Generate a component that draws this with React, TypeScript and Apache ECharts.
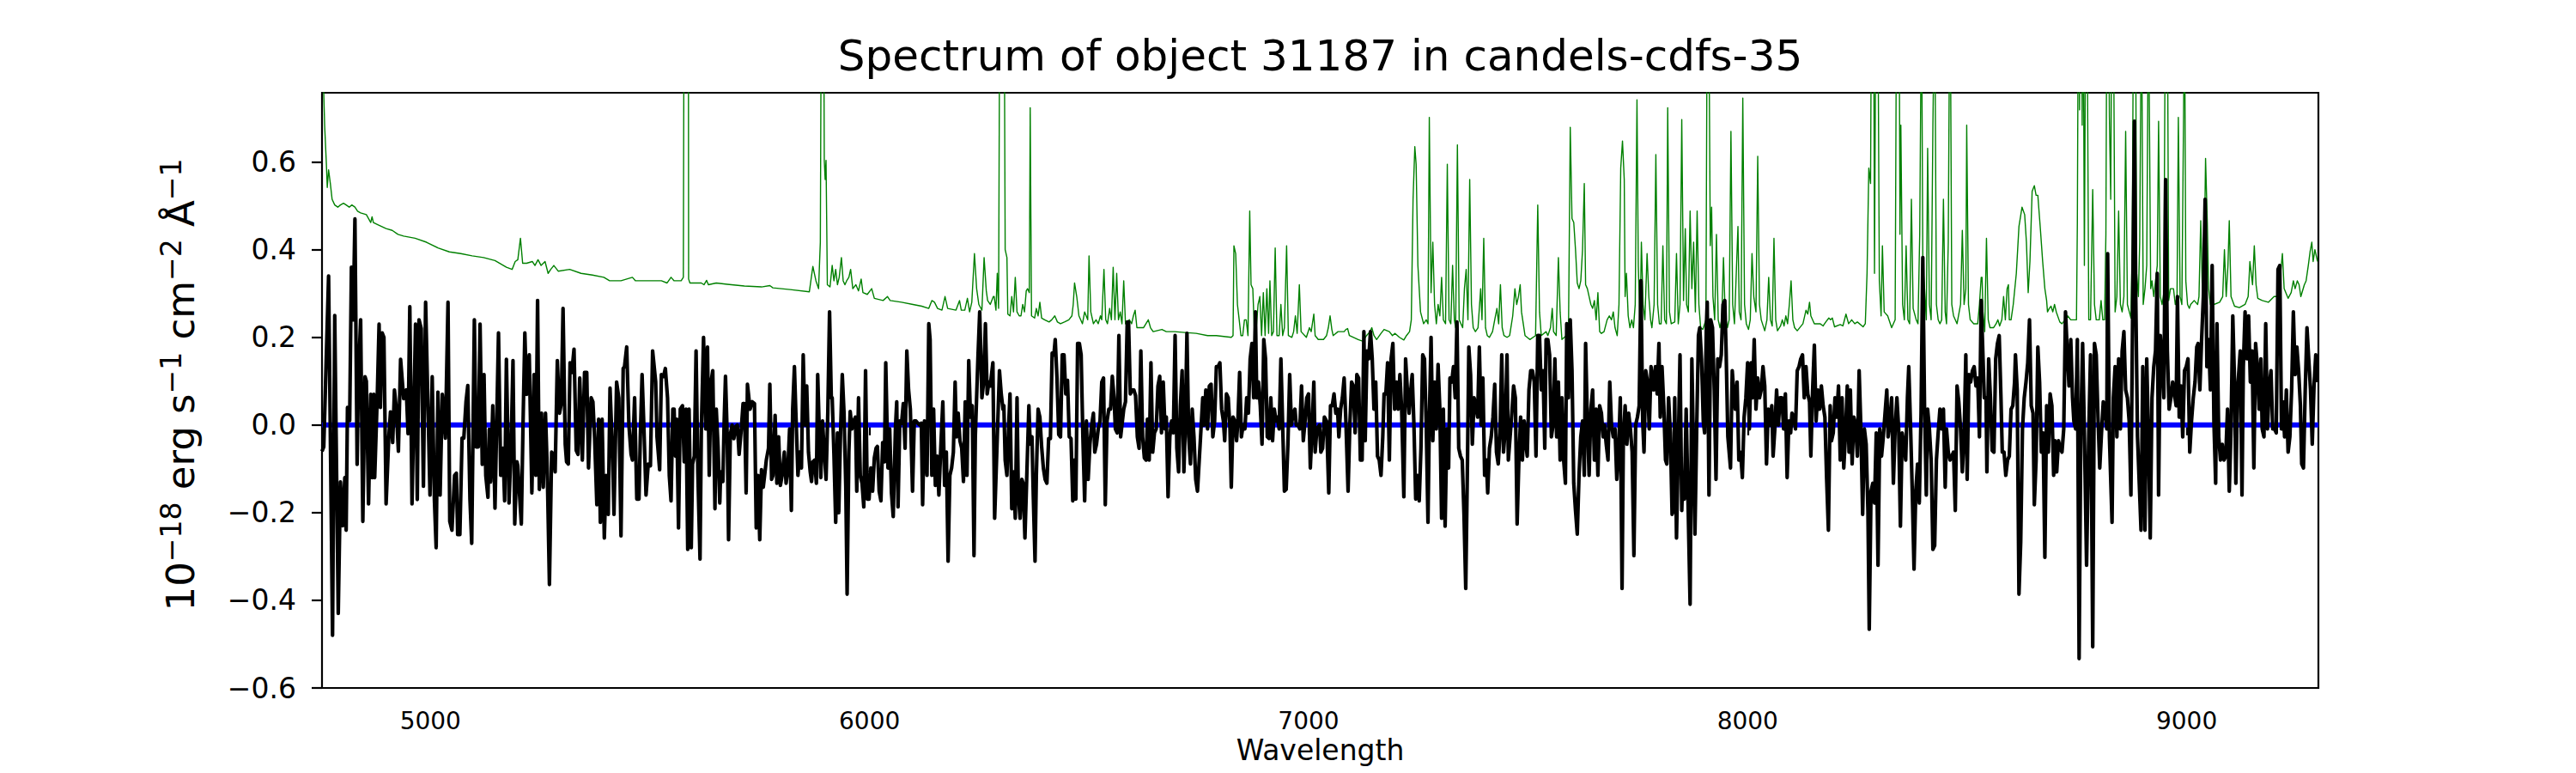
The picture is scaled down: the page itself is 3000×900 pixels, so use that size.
import React, { useEffect, useRef } from "react";
import * as echarts from "echarts";

// Axis extents and ticks
const xMin = 4753;
const xMax = 9300;
const yMin = -0.6;
const yMax = 0.758;
const xTicks = [5000, 6000, 7000, 8000, 9000];
const yTicks = [-0.6, -0.4, -0.2, 0, 0.2, 0.4, 0.6];

const titleText = "Spectrum of object 31187 in candels-cdfs-35";
const xLabelText = "Wavelength";

// Zero reference line
const zeroLine = [[4753, 0], [9300, 0]];

// Object flux (black), [wavelength, flux]
const fluxA = [[4753,-0.06],[4757,-0.05],[4768,0.34],[4777,-0.48],[4782,0.25],[4790,-0.43],[4795,-0.13],[4800,-0.23],[4805,-0.12],[4808,-0.24],[4811,0.04],[4816,0.01],[4820,0.36],[4824,0.24],[4828,0.47],[4833,-0.09],[4836,0.11],[4841,0.24],[4846,-0.22],[4851,0.11],[4854,0.10],[4859,-0.18],[4864,0.07],[4867,-0.12],[4871,0.07],[4873,-0.12],[4879,0.07],[4883,0.23],[4886,0.04],[4890,0.21],[4894,0.20],[4899,-0.18],[4905,-0.03],[4909,0.03],[4914,-0.04],[4918,0.08],[4922,0.04],[4927,-0.06],[4932,0.15],[4939,0.06],[4945,0.08],[4949,-0.02],[4953,0.27],[4958,-0.18],[4962,0.02],[4966,0.23],[4970,-0.17],[4974,0.24],[4979,0.22],[4984,-0.14],[4989,0.28],[4994,0.06],[4999,-0.16],[5004,0.11],[5009,-0.17],[5013,-0.28],[5017,0.075],[5022,-0.16],[5027,0.07],[5030,0.036],[5034,-0.03],[5040,0.28],[5044,-0.22],[5049,-0.24],[5055,-0.115],[5059,-0.11],[5062,-0.25],[5067,-0.25],[5072,-0.03],[5076,-0.03],[5081,0.053],[5085,0.09],[5090,-0.17],[5094,-0.27],[5100,0.24],[5104,-0.05],[5109,-0.05],[5113,0.23],[5118,-0.09],[5122,0.115],[5126,-0.115],[5131,-0.165],[5134,-0.01],[5137,-0.13],[5142,0.044],[5147,-0.19],[5155,0.21],[5160,-0.115],[5165,-0.053],[5169,-0.173],[5173,0.15],[5179,-0.178],[5184,-0.036],[5188,0.147],[5192,-0.226],[5197,-0.084],[5199,-0.093],[5207,-0.226],[5211,0.009],[5215,0.21],[5219,0.07],[5225,0.16],[5231,-0.155],[5236,0.115],[5240,-0.115],[5244,0.284],[5248,-0.147],[5253,0.027],[5257,-0.142],[5262,0.027],[5266,-0.10],[5271,-0.364],[5276,-0.062],[5281,-0.067],[5284,-0.107],[5289,0.147],[5294,0.027],[5298,0.049],[5302,0.266],[5307,-0.044],[5310,-0.084],[5314,-0.089],[5318,0.142],[5322,0.12],[5327,0.173],[5332,-0.058],[5336,-0.067],[5340,0.107],[5346,-0.08],[5351,0.12],[5356,0.12],[5360,-0.098],[5366,0.062],[5370,0.053],[5374,-0.031],[5379,-0.182],[5383,0.013],[5387,-0.222],[5391,0.013],[5396,-0.258],[5400,-0.115],[5405,-0.204],[5409,0.084],[5415,-0.071],[5418,-0.204],[5424,0.098],[5429,0.062],[5434,-0.253],[5439,0.129],[5442,0.133],[5447,0.178],[5452,0],[5457,-0.067],[5460,-0.08],[5465,0.062],[5470,-0.169],[5475,-0.169],[5478,-0.027],[5482,0.115],[5486,0],[5491,-0.16],[5496,-0.089],[5501,-0.093]];

const fluxB = [[5506,0.169],[5513,0.098],[5516,-0.027],[5522,-0.102],[5526,0.115],[5531,0.111],[5535,0.129],[5540,0.062],[5544,-0.115],[5548,-0.173],[5552,0.036],[5555,0.036],[5558,-0.071],[5561,0.013],[5565,-0.235],[5569,0.036],[5574,0.044],[5578,-0.084],[5582,0.036],[5586,-0.284],[5589,0.036],[5594,-0.28],[5597,-0.089],[5601,-0.071],[5605,0.169],[5609,-0.107],[5614,-0.306],[5617,-0.009],[5622,0.2],[5627,-0.009],[5631,0.178],[5635,-0.115],[5639,0.098],[5643,0.124],[5648,-0.191],[5651,0.036],[5655,-0.049],[5659,-0.178],[5661,-0.107],[5666,-0.129],[5669,0.009],[5672,0.111],[5676,-0.027],[5679,-0.262],[5683,-0.022],[5687,0],[5691,-0.031],[5695,-0.004],[5699,0],[5703,-0.067],[5708,-0.009],[5712,0.049],[5715,0.049],[5719,-0.155],[5722,0.093],[5728,0.036],[5733,0.053],[5738,0.049],[5742,-0.235],[5746,-0.115],[5750,-0.262],[5754,-0.102],[5758,-0.142],[5762,-0.107],[5765,-0.08],[5770,-0.053],[5773,0.093],[5777,-0.124],[5780,-0.115],[5785,0.022],[5789,-0.133],[5793,-0.027],[5797,-0.138],[5801,-0.115],[5806,-0.062],[5810,-0.133],[5814,-0.102],[5818,-0.009],[5822,-0.195],[5825,0.036],[5829,0.133],[5832,0.036],[5837,-0.115],[5841,-0.062],[5845,-0.098],[5849,0.16],[5853,0],[5857,0.089],[5861,-0.062],[5865,-0.107],[5868,-0.129],[5871,-0.084],[5875,-0.08],[5879,-0.133],[5882,0.115],[5885,0.009],[5889,-0.12],[5893,0.009],[5897,-0.062],[5901,-0.124],[5905,0.027],[5909,0.258],[5913,0.062],[5915,0.062],[5919,-0.067],[5923,-0.222],[5927,-0.018],[5930,-0.2],[5934,-0.018],[5938,0.115],[5942,0.027],[5946,-0.142],[5949,-0.386],[5953,-0.062],[5956,0.031],[5960,-0.009],[5964,0.009],[5968,0.018],[5971,-0.151],[5975,0.062],[5979,-0.115],[5983,-0.133],[5987,-0.187],[5991,0.124],[5995,-0.169],[5999,-0.169],[6003,-0.098],[6007,-0.151],[6011,-0.075],[6015,-0.053],[6018,-0.049],[6022,-0.151],[6026,-0.173],[6030,-0.04],[6034,-0.084],[6037,0.142],[6042,-0.098],[6046,-0.009],[6050,-0.155],[6054,-0.209],[6059,-0.009],[6062,0.053],[6065,-0.187],[6069,0.009],[6073,0.004],[6077,0.049],[6081,-0.053],[6085,0.169],[6089,0.08],[6093,0.036],[6098,-0.151],[6102,0.009],[6106,0.009],[6110,0.004],[6114,0],[6118,0.004],[6121,-0.182],[6125,0.009],[6131,-0.115],[6135,0.231],[6138,0.195],[6142,-0.115],[6146,0.036],[6150,-0.138],[6154,-0.071],[6158,-0.16],[6163,-0.036],[6167,0.053],[6171,-0.138],[6175,-0.062],[6179,-0.311],[6183,-0.115],[6187,-0.098],[6191,-0.062],[6195,0.098],[6198,-0.027],[6202,0.027],[6206,-0.036],[6210,-0.053],[6214,-0.129],[6218,0.053],[6222,-0.115],[6226,0.147],[6230,0.018],[6234,0.044],[6238,-0.298],[6241,-0.027],[6247,0.155],[6251,0.258],[6256,0.062],[6260,0.098],[6264,0.231],[6268,0.071],[6272,0.098],[6275,0.089],[6281,0.142],[6285,-0.213]];

const fluxC = [[6296,0.124],[6300,0.071],[6304,0.036],[6306,0.044],[6309,-0.08],[6313,-0.115],[6317,0],[6320,0.071],[6324,-0.191],[6328,-0.107],[6332,-0.213],[6336,0.062],[6339,-0.16],[6343,-0.213],[6347,-0.124],[6350,-0.133],[6354,-0.258],[6358,-0.124],[6363,0.044],[6366,-0.044],[6370,-0.027],[6373,-0.16],[6377,-0.311],[6380,-0.115],[6384,0.036],[6388,0.018],[6392,-0.049],[6396,-0.098],[6400,-0.124],[6404,-0.133],[6408,-0.031],[6412,-0.031],[6416,0.164],[6420,0.16],[6423,0.195],[6427,0.107],[6431,-0.022],[6435,-0.027],[6439,0.16],[6443,0.16],[6447,0.071],[6451,0.102],[6455,-0.027],[6459,-0.031],[6463,-0.173],[6467,-0.08],[6470,-0.169],[6474,0.186],[6478,0.186],[6482,0.16],[6486,-0.027],[6490,-0.173],[6494,0.009],[6498,-0.124],[6502,-0.044],[6506,0],[6510,0.027],[6513,-0.062],[6517,-0.044],[6521,-0.009],[6525,0.009],[6529,0.098],[6533,0.107],[6537,-0.182],[6541,0.009],[6545,0.036],[6549,0.036],[6553,0.111],[6557,0.062],[6560,-0.009],[6564,-0.018],[6568,0.204],[6572,-0.027],[6575,0],[6579,0.036],[6583,0.053],[6587,0.235],[6590,0.235],[6594,0.071],[6598,0.08],[6602,0.08],[6606,0.067],[6610,-0.027],[6614,-0.053],[6618,0.169],[6622,-0.027],[6626,-0.075],[6630,-0.08],[6633,0.013],[6637,-0.08],[6641,0.142],[6645,-0.062],[6649,-0.018],[6653,-0.009],[6657,0.089],[6661,0.111],[6665,-0.018],[6669,0.098],[6673,-0.009],[6676,0.018],[6680,-0.164],[6684,-0.027],[6688,0.009],[6692,-0.018],[6696,0.204],[6700,-0.053],[6704,-0.107],[6708,0.044],[6712,0.124],[6716,-0.107],[6719,-0.009],[6723,0.209],[6727,-0.027],[6731,-0.089],[6735,0.036],[6739,-0.027],[6743,-0.124],[6747,-0.151],[6751,-0.08],[6755,-0.009],[6759,0.062],[6762,0],[6766,0.08],[6770,-0.009],[6774,0.089],[6778,0.093],[6782,-0.027],[6786,0.009],[6790,0.133],[6794,0.133],[6798,0.142],[6802,0.036],[6806,0.009],[6809,-0.036],[6813,0.071],[6817,0.062],[6821,-0.009],[6824,-0.142],[6828,0.018],[6832,0.009],[6836,-0.036],[6839,0.009],[6843,0.12],[6847,-0.027],[6851,0],[6855,-0.009],[6859,0.062],[6863,0.027],[6867,0.151],[6871,0.186],[6875,0.062],[6879,0.258],[6882,0.062],[6886,0.098],[6890,0.044],[6894,-0.044],[6898,0.195],[6902,0.151],[6906,-0.027],[6910,-0.031],[6914,0.062],[6918,-0.036],[6922,0.036],[6926,0.009],[6929,0.018],[6933,-0.009],[6937,0.151],[6941,0],[6945,-0.151],[6949,-0.147],[6953,-0.044],[6957,0.115],[6961,0],[6965,0.027],[6969,0.036],[6972,0],[6976,0],[6980,-0.009],[6984,0.089],[6988,-0.036],[6992,0.009],[6996,0.062],[7000,0.071],[7004,-0.098],[7008,-0.009],[7012,0.098],[7015,-0.062],[7019,-0.009],[7025,0]];

const fluxD = [[7028,-0.062],[7032,-0.053],[7036,0.018],[7041,0.009],[7046,-0.155],[7050,0.044],[7054,0.044],[7058,0.071],[7062,0.027],[7066,0.036],[7069,-0.027],[7073,0.036],[7077,0.062],[7081,0.107],[7085,0.009],[7090,-0.151],[7094,0],[7098,0.098],[7102,0.089],[7106,-0.018],[7110,0.115],[7114,0.107],[7118,-0.08],[7122,-0.08],[7126,0.213],[7129,-0.036],[7133,0.169],[7137,0.151],[7141,0.213],[7145,0.151],[7149,0.036],[7153,0.098],[7157,-0.071],[7161,-0.08],[7165,-0.115],[7169,-0.027],[7172,0.071],[7176,0.071],[7180,0.142],[7184,-0.08],[7188,0.151],[7192,0.186],[7196,0.036],[7200,0.098],[7204,0.036],[7208,0.115],[7212,0.036],[7217,-0.164],[7221,0.151],[7225,0.08],[7229,0.027],[7232,0.071],[7236,0.115],[7240,0],[7244,-0.169],[7248,-0.115],[7252,-0.173],[7256,-0.053],[7260,0.16],[7264,0.151],[7268,0],[7272,-0.222],[7275,0.009],[7279,0.2],[7283,-0.036],[7287,0.098],[7291,-0.009],[7295,0.138],[7299,0.036],[7303,-0.213],[7307,0.036],[7311,-0.231],[7315,-0.009],[7319,-0.098],[7322,0.107],[7326,0.098],[7330,0.133],[7334,0.062],[7338,0.235],[7342,-0.053],[7346,-0.071],[7350,-0.08],[7354,-0.204],[7358,-0.373],[7362,-0.08],[7365,0.178],[7369,0.115],[7373,-0.044],[7377,0.062],[7381,0.044],[7385,0.018],[7389,0.178],[7393,0],[7397,0.107],[7401,-0.115],[7405,-0.08],[7408,-0.155],[7412,-0.053],[7416,-0.027],[7420,0.018],[7424,0.093],[7428,-0.062],[7432,-0.089],[7436,-0.018],[7440,0.16],[7444,-0.062],[7448,-0.009],[7452,0.16],[7455,-0.08],[7459,-0.027],[7463,0.027],[7467,0.089],[7471,0.062],[7475,-0.226],[7479,-0.08],[7483,0.018],[7487,-0.08],[7491,0.009],[7495,-0.044],[7498,-0.071],[7502,0.08],[7506,0.124],[7510,0.124],[7514,0.098],[7518,-0.071],[7522,0.204],[7526,0.204],[7530,0.08],[7534,0.124],[7538,-0.053],[7541,0.195],[7545,0.195],[7549,0.16],[7553,-0.027],[7557,0],[7561,0.151],[7565,-0.027],[7569,0.098],[7573,-0.08],[7577,0.062],[7581,-0.08],[7585,-0.133],[7588,0.231],[7592,0.062],[7596,0.24],[7600,0.124],[7604,-0.133],[7608,-0.195],[7612,-0.249],[7616,-0.115],[7620,-0.027],[7624,0.009],[7628,-0.115],[7631,0.186],[7635,0.009],[7639,-0.115],[7643,0.036],[7647,0.08],[7651,-0.08],[7655,0.036],[7659,-0.115],[7663,0.044],[7667,0.027],[7671,-0.027],[7674,0],[7678,-0.044],[7682,-0.08],[7686,0.098],[7690,0],[7694,-0.027],[7698,-0.009],[7702,-0.124],[7706,-0.062],[7710,0.062],[7714,-0.373],[7717,-0.027],[7721,0.044],[7725,-0.044],[7729,0.027],[7733,-0.009],[7737,-0.062],[7741,-0.298],[7745,0],[7749,0.018],[7753,0.044],[7757,0.329],[7761,0.009],[7764,-0.062],[7768,0.124],[7772,0.098],[7776,-0.009],[7780,0.133]];

const fluxE = [[7786,0.08],[7790,0.133],[7794,0.071],[7798,0.186],[7801,0.018],[7805,0.133],[7809,0.044],[7813,-0.08],[7816,-0.089],[7820,0.062],[7824,-0.018],[7828,-0.204],[7831,-0.195],[7834,0.062],[7838,-0.258],[7842,-0.053],[7846,0.16],[7850,-0.195],[7852,-0.124],[7856,-0.169],[7860,0.036],[7864,-0.16],[7869,-0.409],[7873,0.151],[7877,-0.08],[7880,-0.249],[7884,-0.009],[7888,0.204],[7891,0.222],[7895,0.151],[7899,0.009],[7902,-0.018],[7906,0.222],[7908,0.28],[7912,-0.16],[7916,0.24],[7920,0.222],[7924,0.08],[7928,-0.124],[7932,0.151],[7936,0.133],[7940,0.16],[7944,0.275],[7948,0.284],[7951,0.169],[7955,-0.027],[7961,-0.098],[7965,0.124],[7968,0.08],[7972,0.036],[7976,0.098],[7980,-0.08],[7984,-0.062],[7988,-0.12],[7992,0.018],[7996,0.062],[8000,0.142],[8004,-0.009],[8008,0.142],[8011,0.062],[8015,0.195],[8019,0.036],[8023,0.107],[8027,0.062],[8031,0.08],[8035,0.133],[8039,0.089],[8043,-0.089],[8047,0.036],[8051,0],[8055,0.044],[8058,-0.071],[8062,-0.009],[8066,0.08],[8070,0],[8074,0.062],[8078,0.062],[8082,-0.009],[8086,0.071],[8090,-0.12],[8094,0.009],[8098,-0.018],[8101,0.027],[8105,0.018],[8109,-0.009],[8113,0.124],[8117,0.133],[8121,0.151],[8125,0.16],[8129,0.062],[8133,0.133],[8137,0.071],[8141,0.053],[8144,-0.071],[8148,0.08],[8152,0.182],[8156,0.009],[8160,0.08],[8164,0.036],[8168,0.089],[8172,0.044],[8176,0.018],[8180,-0.124],[8184,-0.24],[8188,0.044],[8191,-0.036],[8195,-0.018],[8199,0.062],[8203,0.018],[8207,0.089],[8211,-0.08],[8215,0.062],[8219,-0.098],[8223,-0.018],[8227,0.089],[8231,-0.062],[8234,0.08],[8238,-0.089],[8242,0.018],[8246,0],[8250,-0.071],[8254,0.124],[8258,-0.009],[8262,-0.204],[8266,-0.009],[8270,-0.044],[8274,-0.195],[8277,-0.466],[8281,-0.151],[8285,-0.133],[8289,-0.178],[8293,-0.018],[8297,-0.32],[8301,-0.009],[8305,-0.071],[8309,-0.027],[8313,0.027],[8317,0.08],[8320,-0.027],[8324,0.009],[8328,0.062],[8332,-0.133],[8336,-0.009],[8340,0.062],[8344,-0.009],[8348,-0.231],[8352,-0.018],[8356,-0.044],[8360,-0.08],[8364,0.062],[8367,0.133],[8371,0],[8375,-0.151],[8379,-0.329],[8383,-0.151],[8387,-0.089],[8391,-0.178],[8395,0.027],[8399,0.382],[8403,0.036],[8407,-0.16],[8410,0.036],[8414,-0.009],[8418,-0.08],[8422,-0.284],[8426,-0.275],[8430,-0.08],[8434,-0.018],[8438,0.036],[8442,-0.009],[8446,0.036],[8450,-0.142],[8453,-0.009],[8457,-0.062],[8461,-0.08],[8465,-0.071],[8469,-0.062],[8473,-0.195],[8477,0.089],[8481,0.053],[8485,-0.009],[8489,-0.107],[8493,-0.027],[8497,0.16],[8500,-0.124],[8504,0.115],[8508,0.098],[8512,0.124],[8516,0.133],[8520,0.089],[8524,0.107],[8528,-0.027],[8532,0.284]];

const fluxF = [[8539,0.062],[8543,0.062],[8545,-0.107],[8549,0.151],[8553,0.062],[8557,-0.058],[8561,-0.062],[8565,0.151],[8569,0.186],[8573,0.204],[8577,0.062],[8580,-0.062],[8584,-0.062],[8588,-0.115],[8592,-0.08],[8596,-0.071],[8600,0.036],[8604,0.044],[8608,0.098],[8610,0.16],[8614,0.08],[8618,-0.386],[8622,-0.266],[8626,-0.009],[8630,0.062],[8634,0.098],[8638,0.142],[8642,0.24],[8646,0.044],[8650,0.027],[8653,-0.182],[8657,-0.08],[8661,0.178],[8665,0.098],[8669,-0.062],[8673,-0.018],[8677,-0.302],[8681,0.044],[8685,-0.062],[8689,0.071],[8693,0.044],[8697,-0.115],[8700,-0.036],[8704,-0.107],[8708,-0.036],[8712,-0.053],[8716,-0.062],[8720,-0.009],[8724,0.258],[8728,0.169],[8732,0.089],[8736,0.195],[8740,0.062],[8743,0.009],[8747,-0.009],[8751,0.195],[8755,-0.533],[8759,0],[8763,0.186],[8767,-0.018],[8772,-0.32],[8777,-0.018],[8781,0.16],[8786,-0.506],[8790,0.186],[8794,0.16],[8798,0.018],[8802,-0.098],[8806,-0.018],[8810,0.053],[8814,0.036],[8818,-0.009],[8820,0.391],[8824,-0.027],[8830,-0.222],[8833,0.062],[8837,0.133],[8841,-0.027],[8845,0.151],[8849,-0.009],[8853,0.169],[8857,0.213],[8861,0.08],[8865,0.062],[8869,0.009],[8873,-0.16],[8881,0.693],[8884,0.293],[8888,-0.027],[8892,-0.133],[8896,-0.24],[8900,0.133],[8905,-0.24],[8909,0.151],[8913,-0.027],[8917,-0.258],[8921,0.062],[8925,0.133],[8929,0.169],[8933,0.346],[8936,-0.16],[8940,0.204],[8944,0.151],[8948,0.062],[8952,0.56],[8956,0.169],[8960,0.036],[8964,0.062],[8968,0.098],[8972,0.071],[8976,0.044],[8979,0.293],[8983,0.018],[8987,0.089],[8991,-0.027],[8995,0.124],[8999,0.133],[9003,0.151],[9007,-0.062],[9011,0.009],[9015,0.062],[9019,0.098],[9023,0.178],[9026,0.186],[9030,0.08],[9034,0.195],[9038,0.293],[9042,0.515],[9046,0.133],[9050,0.195],[9054,0.08],[9058,0.364],[9062,0.009],[9066,-0.133],[9069,0.231],[9073,-0.027],[9077,-0.08],[9081,-0.044],[9085,-0.08],[9089,-0.071],[9093,0.036],[9097,-0.151],[9101,-0.009],[9105,0.249],[9109,0.098],[9112,-0.133],[9116,0.08],[9122,0.169],[9126,-0.16],[9129,0.133],[9133,0.258],[9137,0.151],[9141,0.249],[9145,0.098],[9149,0.169],[9153,-0.098],[9157,0.186],[9161,0.133],[9165,0.036],[9169,0.151],[9172,-0.009],[9176,-0.027],[9180,0.231],[9184,-0.009],[9188,0.089],[9192,0.124],[9196,-0.009],[9200,-0.009],[9204,-0.018],[9208,0.355],[9212,0.364],[9216,-0.009],[9219,0.053],[9223,-0.027],[9227,0.08],[9231,-0.062],[9235,-0.027],[9239,0.08],[9243,0.258],[9247,0.115],[9251,0.178],[9255,0.124],[9259,0.044],[9262,-0.089],[9266,-0.098],[9270,0.08],[9274,0.222],[9278,0.151],[9282,0.08],[9286,-0.044],[9290,0.089],[9294,0.16],[9298,0.098]];

// Sky / noise spectrum (green), [wavelength, flux]
const skyA = [[4753,0.9],[4759,0.684],[4763,0.595],[4765,0.542],[4768,0.582],[4772,0.551],[4776,0.515],[4782,0.502],[4789,0.497],[4795,0.502],[4802,0.506],[4808,0.502],[4815,0.497],[4821,0.502],[4828,0.497],[4834,0.488],[4841,0.484],[4854,0.48],[4864,0.462],[4867,0.475],[4870,0.462],[4880,0.457],[4899,0.448],[4913,0.444],[4926,0.435],[4939,0.431],[4965,0.426],[4991,0.417],[5017,0.404],[5043,0.395],[5069,0.391],[5095,0.386],[5121,0.382],[5147,0.375],[5173,0.36],[5186,0.355],[5193,0.373],[5199,0.377],[5205,0.426],[5210,0.369],[5219,0.369],[5232,0.373],[5238,0.364],[5245,0.377],[5252,0.364],[5261,0.373],[5268,0.346],[5274,0.355],[5281,0.364],[5291,0.351],[5317,0.355],[5343,0.346],[5369,0.342],[5395,0.337],[5408,0.329],[5434,0.329],[5460,0.337],[5467,0.329],[5506,0.329]];

const skyB = [[5526,0.329],[5539,0.324],[5548,0.337],[5555,0.329],[5571,0.329],[5576,0.337],[5579,1.6],[5583,1.8],[5587,1.6],[5588,0.333],[5591,0.324],[5604,0.324],[5617,0.324],[5623,0.32],[5629,0.33],[5633,0.32],[5651,0.324],[5676,0.321],[5715,0.317],[5754,0.315],[5773,0.318],[5780,0.313],[5819,0.309],[5863,0.304],[5871,0.362],[5878,0.329],[5884,0.311],[5888,0.417],[5891,1.2],[5895,1.2],[5897,0.604],[5899,0.56],[5901,0.604],[5904,0.32],[5910,0.315],[5915,0.364],[5919,0.329],[5923,0.355],[5927,0.32],[5931,0.337],[5936,0.382],[5940,0.329],[5944,0.32],[5948,0.329],[5953,0.337],[5957,0.355],[5962,0.311],[5969,0.32],[5975,0.306],[5981,0.333],[5985,0.302],[5995,0.298],[6005,0.311],[6011,0.289],[6031,0.284],[6041,0.293],[6047,0.284],[6073,0.28],[6099,0.275],[6119,0.271],[6135,0.266],[6142,0.284],[6148,0.28],[6155,0.266],[6165,0.262],[6172,0.293],[6178,0.266],[6197,0.262],[6205,0.284],[6209,0.262],[6217,0.262],[6223,0.289],[6228,0.258],[6233,0.28],[6239,0.391],[6244,0.311],[6249,0.275],[6256,0.262],[6261,0.382],[6266,0.306],[6269,0.284],[6275,0.275],[6282,0.293]];

const skyC = [[6284,0.293],[6288,0.262],[6291,0.346],[6294,0.266],[6298,1.4],[6302,1.6],[6306,1.2],[6309,0.4],[6313,0.382],[6315,0.253],[6320,0.249],[6324,0.293],[6328,0.258],[6332,0.337],[6336,0.258],[6341,0.249],[6345,0.249],[6349,0.275],[6353,0.258],[6357,0.306],[6360,0.311],[6364,0.302],[6366,0.724],[6369,0.249],[6376,0.244],[6380,0.266],[6384,0.249],[6388,0.28],[6392,0.244],[6399,0.24],[6409,0.235],[6415,0.24],[6422,0.249],[6428,0.235],[6435,0.231],[6444,0.235],[6454,0.24],[6461,0.249],[6464,0.275],[6467,0.324],[6472,0.293],[6477,0.249],[6485,0.231],[6490,0.258],[6497,0.24],[6500,0.386],[6504,0.258],[6510,0.231],[6516,0.24],[6521,0.231],[6526,0.249],[6529,0.24],[6534,0.355],[6538,0.24],[6542,0.231],[6547,0.266],[6551,0.24],[6555,0.36],[6559,0.24],[6563,0.346],[6567,0.24],[6571,0.258],[6575,0.231],[6579,0.329],[6583,0.231],[6592,0.24],[6597,0.231],[6601,0.249],[6605,0.262],[6609,0.222],[6624,0.222],[6635,0.24],[6640,0.222],[6646,0.213],[6666,0.218],[6676,0.213],[6695,0.213],[6718,0.211],[6744,0.209],[6770,0.204],[6790,0.204],[6824,0.2],[6828,0.204],[6830,0.409],[6834,0.391],[6838,0.275],[6842,0.24],[6846,0.204],[6850,0.204],[6854,0.24],[6858,0.24],[6862,0.204],[6866,0.488],[6869,0.32],[6873,0.311],[6877,0.204],[6881,0.222],[6885,0.275],[6889,0.293],[6893,0.204],[6897,0.302],[6901,0.204],[6905,0.311],[6909,0.209],[6912,0.329],[6916,0.204],[6920,0.213],[6924,0.404],[6928,0.204],[6933,0.204],[6937,0.275],[6941,0.204],[6945,0.222],[6950,0.409],[6954,0.204],[6962,0.2],[6966,0.213],[6970,0.249],[6974,0.209],[6979,0.32],[6983,0.213],[6995,0.2],[7002,0.222],[7006,0.213],[7012,0.253],[7015,0.204],[7022,0.195],[7030,0.195]];

const skyD = [[7034,0.195],[7041,0.204],[7045,0.222],[7049,0.249],[7053,0.218],[7056,0.204],[7067,0.213],[7081,0.213],[7085,0.218],[7089,0.22],[7093,0.204],[7113,0.195],[7124,0.191],[7132,0.204],[7140,0.213],[7144,0.222],[7149,0.204],[7155,0.195],[7165,0.209],[7172,0.218],[7184,0.213],[7191,0.204],[7197,0.209],[7207,0.2],[7217,0.194],[7223,0.204],[7230,0.213],[7234,0.24],[7238,0.515],[7242,0.635],[7245,0.595],[7249,0.364],[7252,0.311],[7255,0.258],[7262,0.231],[7268,0.24],[7272,0.231],[7275,0.702],[7279,0.302],[7283,0.417],[7287,0.275],[7291,0.231],[7295,0.275],[7299,0.249],[7303,0.337],[7307,0.24],[7312,0.231],[7316,0.595],[7320,0.24],[7324,0.231],[7328,0.364],[7332,0.24],[7335,0.222],[7339,0.639],[7343,0.24],[7351,0.222],[7355,0.311],[7359,0.355],[7363,0.24],[7367,0.56],[7371,0.275],[7375,0.222],[7380,0.213],[7386,0.222],[7392,0.311],[7395,0.24],[7399,0.426],[7403,0.222],[7407,0.204],[7412,0.2],[7419,0.213],[7424,0.24],[7429,0.266],[7433,0.231],[7437,0.32],[7441,0.222],[7445,0.204],[7452,0.2],[7458,0.204],[7465,0.249],[7470,0.311],[7474,0.275],[7478,0.293],[7482,0.32],[7485,0.258],[7489,0.231],[7493,0.204],[7504,0.195],[7517,0.204],[7522,0.502],[7526,0.258],[7530,0.204],[7541,0.213],[7545,0.204],[7551,0.222],[7555,0.266],[7558,0.213],[7564,0.204],[7569,0.382],[7573,0.258],[7577,0.195],[7587,0.204],[7592,0.213],[7596,0.679],[7600,0.471],[7604,0.462],[7608,0.4],[7612,0.324],[7616,0.311],[7620,0.329],[7624,0.4],[7628,0.551],[7631,0.32],[7635,0.311],[7639,0.293],[7643,0.275],[7647,0.266],[7651,0.284],[7655,0.24],[7659,0.302],[7663,0.213],[7667,0.209],[7673,0.213],[7680,0.24],[7685,0.249],[7690,0.24],[7694,0.258],[7698,0.222],[7703,0.204],[7707,0.275],[7711,0.586],[7715,0.648],[7719,0.56],[7721,0.293],[7724,0.346],[7728,0.249],[7732,0.222],[7736,0.24],[7740,0.222],[7744,0.275],[7748,0.742],[7751,0.364],[7755,0.222],[7758,0.417],[7762,0.275],[7766,0.24],[7771,0.391],[7775,0.293],[7779,0.24]];

const skyE = [[7782,0.222],[7787,0.275],[7791,0.617],[7795,0.275],[7799,0.231],[7803,0.231],[7807,0.409],[7811,0.24],[7815,0.231],[7818,0.724],[7822,0.258],[7826,0.231],[7834,0.235],[7838,0.391],[7842,0.231],[7846,0.275],[7850,0.697],[7854,0.284],[7858,0.448],[7861,0.275],[7865,0.258],[7869,0.488],[7873,0.311],[7877,0.417],[7881,0.258],[7885,0.488],[7889,0.275],[7893,0.222],[7898,0.218],[7905,0.24],[7908,1.0],[7912,0.9],[7915,0.409],[7918,0.497],[7921,0.293],[7925,0.24],[7929,0.435],[7933,0.24],[7937,0.222],[7941,0.24],[7945,0.382],[7949,0.249],[7954,0.222],[7958,0.24],[7962,0.67],[7966,0.275],[7970,0.231],[7978,0.453],[7981,0.258],[7985,0.24],[7989,0.746],[7993,0.275],[7997,0.231],[8002,0.218],[8006,0.24],[8010,0.391],[8014,0.293],[8019,0.258],[8023,0.613],[8027,0.275],[8031,0.24],[8039,0.215],[8044,0.24],[8048,0.337],[8052,0.24],[8056,0.226],[8060,0.426],[8064,0.24],[8068,0.215],[8075,0.226],[8079,0.24],[8083,0.226],[8087,0.249],[8091,0.231],[8095,0.275],[8099,0.329],[8103,0.24],[8107,0.222],[8113,0.215],[8126,0.231],[8133,0.262],[8137,0.253],[8141,0.28],[8144,0.249],[8152,0.231],[8165,0.231],[8172,0.226],[8178,0.235],[8185,0.244],[8189,0.24],[8193,0.244],[8198,0.224],[8211,0.229],[8217,0.226],[8224,0.253],[8230,0.231],[8237,0.24],[8244,0.231],[8250,0.235],[8263,0.224],[8268,0.231],[8272,0.346],[8276,0.586],[8280,0.551],[8283,1.2],[8287,1.0],[8289,0.346],[8293,1.2],[8296,1.1],[8300,0.329],[8304,0.249],[8307,0.409],[8311,0.258],[8319,0.249],[8328,0.222],[8336,0.24],[8340,1.2],[8344,1.3],[8347,0.435],[8349,0.684],[8353,0.275],[8357,0.24],[8361,0.409],[8365,0.24],[8369,0.231],[8373,0.515],[8377,0.266],[8384,0.24],[8388,0.231],[8392,0.435],[8396,1.0],[8399,0.373],[8403,0.311],[8407,0.24],[8410,0.631],[8414,0.275],[8418,0.24],[8422,0.684],[8426,1.0],[8430,0.275],[8434,0.24],[8438,0.231],[8442,0.24],[8446,0.515],[8450,0.258],[8453,0.231],[8457,0.417],[8461,1.1],[8465,0.275],[8469,0.249],[8477,0.231],[8485,0.275],[8489,0.444],[8493,0.275],[8497,0.311],[8499,0.684],[8503,0.275],[8507,0.24],[8515,0.231],[8524,0.231],[8528,0.275],[8532,0.337]];

const skyF = [[8534,0.337],[8536,0.258],[8540,0.213],[8544,0.426],[8548,0.24],[8552,0.222],[8560,0.222],[8566,0.231],[8570,0.24],[8574,0.226],[8579,0.24],[8583,0.293],[8587,0.24],[8591,0.311],[8594,0.32],[8596,0.24],[8600,0.24],[8605,0.275],[8612,0.346],[8618,0.453],[8625,0.497],[8631,0.48],[8635,0.417],[8639,0.302],[8643,0.373],[8648,0.533],[8653,0.546],[8657,0.524],[8661,0.524],[8667,0.444],[8672,0.373],[8677,0.311],[8681,0.284],[8683,0.258],[8687,0.266],[8691,0.271],[8695,0.258],[8699,0.275],[8703,0.258],[8711,0.235],[8716,0.231],[8723,0.24],[8729,0.249],[8736,0.24],[8749,0.24],[8751,0.462],[8754,1.2],[8756,0.719],[8759,1.3],[8762,0.684],[8764,1.1],[8767,0.364],[8770,1.0],[8773,1.0],[8777,0.24],[8781,0.24],[8786,0.537],[8790,0.275],[8794,0.24],[8801,0.24],[8805,0.284],[8809,0.24],[8813,0.24],[8816,0.435],[8819,1.2],[8822,1.0],[8824,0.702],[8827,0.515],[8830,1.1],[8833,1.0],[8837,0.258],[8841,0.293],[8845,0.488],[8849,0.275],[8853,0.258],[8857,0.293],[8861,0.67],[8865,0.275],[8873,0.244],[8876,0.417],[8879,1.0],[8883,1.1],[8886,0.346],[8890,0.293],[8893,0.417],[8897,1.0],[8901,0.275],[8905,0.311],[8909,0.364],[8913,1.0],[8918,0.311],[8921,0.329],[8925,0.293],[8929,0.329],[8933,0.364],[8936,0.693],[8940,0.293],[8944,0.275],[8948,0.302],[8952,1.1],[8956,1.0],[8959,0.284],[8963,0.311],[8970,0.311],[8974,0.275],[8978,0.293],[8981,0.702],[8985,0.293],[8989,0.275],[8993,0.719],[8995,1.0],[8998,0.329],[9002,0.275],[9006,0.266],[9009,0.275],[9017,0.284],[9025,0.275],[9028,0.293],[9032,0.466],[9036,0.293],[9039,0.311],[9043,0.608],[9047,0.462],[9050,0.311],[9054,0.275],[9062,0.275],[9075,0.28],[9082,0.293],[9086,0.4],[9090,0.293],[9094,0.364],[9097,0.466],[9101,0.293],[9109,0.271],[9120,0.268],[9133,0.275],[9140,0.293],[9144,0.373],[9146,0.355],[9150,0.32],[9154,0.409],[9158,0.32],[9162,0.289],[9172,0.284],[9186,0.28],[9199,0.293],[9205,0.293],[9210,0.329],[9214,0.346],[9218,0.391],[9222,0.311],[9231,0.289],[9238,0.302],[9243,0.329],[9247,0.311],[9252,0.329],[9256,0.32],[9260,0.293],[9268,0.32],[9272,0.329],[9277,0.364],[9281,0.395],[9285,0.417],[9288,0.373],[9292,0.4],[9298,0.373]];

const FONT = "DejaVu Sans";

export default function App() {
  const ref = useRef<HTMLDivElement>(null);

  useEffect(() => {
    if (!ref.current) return;
    const chart = echarts.init(ref.current, null, { renderer: "svg" });
    const flux = [...fluxA, ...fluxB, ...fluxC, ...fluxD, ...fluxE, ...fluxF];
    const sky = [...skyA, ...skyB, ...skyC, ...skyD, ...skyE, ...skyF];

    chart.setOption({
      animation: false,
      backgroundColor: "#ffffff",
      textStyle: { fontFamily: FONT },
      grid: {
        left: 375,
        right: 300,
        top: 108,
        bottom: 99,
        show: true,
        borderColor: "#000000",
        borderWidth: 2.2,
        backgroundColor: "transparent",
      },
      xAxis: {
        type: "value",
        min: xMin,
        max: xMax,
        axisLine: { show: false },
        axisTick: {
          show: true,
          customValues: xTicks,
          length: 12,
          lineStyle: { color: "#000000", width: 2.2 },
        },
        axisLabel: {
          customValues: xTicks,
          fontSize: 28,
          fontFamily: FONT,
          color: "#000000",
          margin: 24,
          formatter: (v: number) => String(v),
        },
        splitLine: { show: false },
      },
      yAxis: {
        type: "value",
        min: yMin,
        max: yMax,
        axisLine: { show: false },
        axisTick: {
          show: true,
          customValues: yTicks,
          length: 12,
          lineStyle: { color: "#000000", width: 2.2 },
        },
        axisLabel: {
          customValues: yTicks,
          fontSize: 33,
          fontFamily: FONT,
          color: "#000000",
          margin: 30,
          formatter: (v: number) => v.toFixed(1).replace("-", "\u2212"),
        },
        splitLine: { show: false },
      },
      graphic: [
        {
          type: "text",
          x: 1537.5,
          y: 65,
          style: {
            text: titleText,
            fontSize: 50,
            fontFamily: FONT,
            fill: "#000000",
            align: "center",
            verticalAlign: "middle",
          },
        },
        {
          type: "text",
          x: 1537.5,
          y: 873,
          style: {
            text: xLabelText,
            fontSize: 33,
            fontFamily: FONT,
            fill: "#000000",
            align: "center",
            verticalAlign: "middle",
          },
        },
        {
          type: "text",
          x: 210,
          y: 448,
          rotation: Math.PI / 2,
          style: {
            text: "{m|10}{s|\u221218}{m| erg s}{s|\u22121}{m| cm}{s|\u22122}{m| \u00C5}{s|\u22121}",
            fill: "#000000",
            align: "center",
            verticalAlign: "middle",
            rich: {
              m: { fontSize: 45, fontFamily: FONT, lineHeight: 54, fill: "#000000" },
              s: { fontSize: 33, fontFamily: FONT, lineHeight: 34, verticalAlign: "top", fill: "#000000" },
            },
          },
        },
      ],
      series: [
        {
          type: "line",
          data: sky,
          showSymbol: false,
          symbol: "none",
          silent: true,
          clip: true,
          lineStyle: { color: "#008000", width: 1.4, join: "round" },
        },
        {
          type: "line",
          data: zeroLine,
          showSymbol: false,
          symbol: "none",
          silent: true,
          clip: true,
          lineStyle: { color: "#0000ff", width: 6 },
        },
        {
          type: "line",
          data: flux,
          showSymbol: false,
          symbol: "none",
          silent: true,
          clip: true,
          lineStyle: { color: "#000000", width: 4.2, join: "round" },
        },
      ],
    });

    return () => chart.dispose();
  }, []);

  return (
    <div
      ref={ref}
      style={{ position: "absolute", left: 0, top: 0, width: 3000, height: 900, background: "#ffffff" }}
    />
  );
}
